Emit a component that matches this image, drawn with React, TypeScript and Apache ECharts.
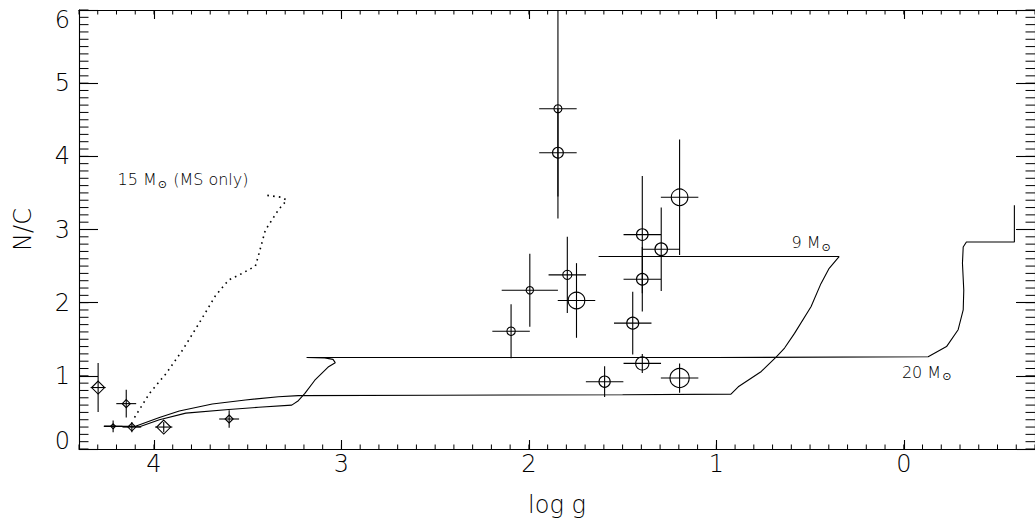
import React, { useEffect, useRef } from 'react';
import * as echarts from 'echarts';

const X_MIN = -0.7;
const X_MAX = 4.4;
const Y_MIN = 0;
const Y_MAX = 6;
const xMajorTicks = [0, 1, 2, 3, 4];
const yMajorTicks = [0, 1, 2, 3, 4, 5, 6];

// Sample 1 (circles)
const circLogg = [1.845, 1.845, 1.196, 1.395, 1.395, 1.294, 1.995, 1.795, 1.746, 2.095, 1.446, 1.395, 1.596, 1.196];
const circNC = [4.65, 4.05, 3.44, 2.93, 2.32, 2.73, 2.17, 2.38, 2.03, 1.61, 1.72, 1.17, 0.92, 0.97];
const circErrLogg = [0.1, 0.1, 0.1, 0.1, 0.1, 0.1, 0.15, 0.1, 0.1, 0.1, 0.1, 0.1, 0.1, 0.1];
const circErrNC = [1.5, 0.6, 0.79, 0.8, 0.44, 0.57, 0.5, 0.52, 0.51, 0.37, 0.43, 0.13, 0.21, 0.2];
const circSize = [4, 5.4, 8.3, 5.8, 5.8, 6.3, 3.7, 4.6, 8.3, 4.2, 6, 6.6, 5.6, 9.6];

// Sample 2 (diamonds)
const diaLogg = [4.298, 4.148, 4.218, 4.118, 3.948, 3.599];
const diaNC = [0.84, 0.62, 0.31, 0.3, 0.3, 0.41];
const diaErrLogg = [0.04, 0.053, 0.05, 0.05, 0.046, 0.053];
const diaErrNC = [0.335, 0.19, 0.08, 0.07, 0.07, 0.12];
const diaSize = [6.5, 4, 2.5, 4, 7, 4];

// 9 Msun track
const track9Logg = [4.266, 4.095, 3.971, 3.865, 3.689, 3.512, 3.336, 3.23, 2.5, 1.5, 0.922, 0.883, 0.76, 0.68, 0.636, 0.583, 0.495, 0.442, 0.398, 0.345, 1.628];
const track9NC = [0.31, 0.315, 0.43, 0.52, 0.615, 0.67, 0.715, 0.73, 0.735, 0.742, 0.75, 0.85, 1.06, 1.26, 1.38, 1.58, 1.945, 2.26, 2.47, 2.63, 2.63];

// 20 Msun track
const track20Logg = [4.266, 4.077, 3.971, 3.83, 3.601, 3.442, 3.265, 3.23, 3.195, 3.142, 3.071, 3.033, 3.045, 3.089, 3.186, 1.0, -0.13, -0.228, -0.29, -0.317, -0.32, -0.313, -0.317, -0.334, -0.59, -0.59];
const track20NC = [0.31, 0.305, 0.4, 0.49, 0.54, 0.57, 0.6, 0.66, 0.76, 0.94, 1.12, 1.18, 1.225, 1.245, 1.25, 1.25, 1.26, 1.4, 1.63, 1.9, 2.17, 2.54, 2.76, 2.83, 2.83, 3.33];

// 15 Msun track (MS only)
const track15Logg = [4.104, 4.024, 3.936, 3.848, 3.759, 3.671, 3.601, 3.53, 3.459, 3.442, 3.406, 3.336, 3.292, 3.318, 3.406];
const track15NC = [0.43, 0.76, 1.03, 1.35, 1.72, 2.1, 2.31, 2.4, 2.5, 2.65, 2.99, 3.27, 3.4, 3.44, 3.47];

// Track labels (anchored in data units)
const labelTexts = ['15 M{s|⊙} (MS only)', '9 M{s|⊙}', '20 M{s|⊙}'];
const labelLogg = [4.194, 0.599, 0.01];
const labelNC = [3.68, 2.82, 1.05];

const FONT = "'DejaVu Sans', 'Liberation Sans', sans-serif";

const zip = (a: number[], b: number[]) => a.map((v, i) => [v, b[i]]);

const errRender = (shape: 'circle' | 'diamond') => (params: any, api: any) => {
  const x = api.value(0);
  const y = api.value(1);
  const dx = api.value(2);
  const dy = api.value(3);
  const r = api.value(4);
  const c = api.coord([x, y]);
  const h1 = api.coord([x - dx, y]);
  const h2 = api.coord([x + dx, y]);
  const v1 = api.coord([x, y - dy]);
  const v2 = api.coord([x, y + dy]);
  const st = { stroke: '#000', lineWidth: 1.1, fill: 'none' };
  const marker =
    shape === 'circle'
      ? { type: 'circle', shape: { cx: c[0], cy: c[1], r }, style: st }
      : {
          type: 'polygon',
          shape: { points: [[c[0], c[1] - r], [c[0] + r, c[1]], [c[0], c[1] + r], [c[0] - r, c[1]]] },
          style: st,
        };
  return {
    type: 'group',
    children: [
      { type: 'line', shape: { x1: h1[0], y1: h1[1], x2: h2[0], y2: h2[1] }, style: st },
      { type: 'line', shape: { x1: v1[0], y1: v1[1], x2: v2[0], y2: v2[1] }, style: st },
      marker,
    ],
  };
};

const xMinorTicks: number[] = [];
for (let k = -7; k <= 44; k++) xMinorTicks.push(k / 10);
const yMinorTicks: number[] = [];
for (let k = 0; k <= 60; k++) yMinorTicks.push(k / 10);

export default function App() {
  const ref = useRef<HTMLDivElement>(null);
  useEffect(() => {
    document.body.style.margin = '0';
    if (!ref.current) return;
    const chart = echarts.init(ref.current, undefined, { renderer: 'svg' });
    const axisLineStyle = { color: '#000', width: 1.1 };
    const labelStyle = { color: '#000', fontSize: 24, fontFamily: FONT, fontWeight: 200 as any };
    const xBase = { type: 'value', min: X_MIN, max: X_MAX, inverse: true, splitLine: { show: false } };
    const yBase = { type: 'value', min: Y_MIN, max: Y_MAX, splitLine: { show: false } };
    const option: any = {
      animation: false,
      backgroundColor: '#fff',
      grid: { left: 79, top: 10, width: 963, height: 439 },
      xAxis: [
        {
          ...xBase,
          position: 'bottom',
          axisLine: { show: true, onZero: false, lineStyle: axisLineStyle },
          axisTick: { show: true, inside: true, length: 9, customValues: xMajorTicks, lineStyle: axisLineStyle },
          axisLabel: { show: true, customValues: xMajorTicks, margin: 3, formatter: (v: number) => String(Math.round(v)), ...labelStyle },
          name: 'log g',
          nameLocation: 'middle',
          nameGap: 44,
          nameTextStyle: { ...labelStyle },
        },
        {
          ...xBase,
          position: 'top',
          axisLine: { show: true, onZero: false, lineStyle: axisLineStyle },
          axisTick: { show: true, inside: true, length: 9, customValues: xMajorTicks, lineStyle: axisLineStyle },
          axisLabel: { show: false },
        },
      ],
      yAxis: [
        {
          ...yBase,
          position: 'left',
          axisLine: { show: true, onZero: false, lineStyle: axisLineStyle },
          axisTick: { show: true, inside: true, length: 19, customValues: yMajorTicks, lineStyle: axisLineStyle },
          axisLabel: {
            show: true,
            customValues: yMajorTicks,
            margin: 9,
            formatter: (v: number) => {
              const n = Math.round(v);
              if (n === Y_MAX) return '{top|' + n + '}';
              if (n === Y_MIN) return '{bot|' + n + '}';
              return String(n);
            },
            ...labelStyle,
            rich: {
              top: { ...labelStyle, padding: [20, 0, 0, 0] },
              bot: { ...labelStyle, padding: [0, 0, 16, 0] },
            },
          },
          name: 'N/C',
          nameLocation: 'middle',
          nameGap: 44,
          nameTextStyle: { ...labelStyle },
        },
        {
          ...yBase,
          position: 'right',
          axisLine: { show: true, onZero: false, lineStyle: axisLineStyle },
          axisTick: { show: true, inside: true, length: 19, customValues: yMajorTicks, lineStyle: axisLineStyle },
          axisLabel: { show: false },
        },
      ],
      series: [
        {
          type: 'custom',
          name: 'xMinor',
          clip: false,
          silent: true,
          data: xMinorTicks.map((v) => [v, Y_MIN]),
          renderItem: (params: any, api: any) => {
            const v = api.value(0);
            const b = api.coord([v, Y_MIN]);
            const t = api.coord([v, Y_MAX]);
            const st = { stroke: '#000', lineWidth: 1 };
            return {
              type: 'group',
              children: [
                { type: 'line', shape: { x1: b[0], y1: b[1], x2: b[0], y2: b[1] - 4.5 }, style: st },
                { type: 'line', shape: { x1: t[0], y1: t[1], x2: t[0], y2: t[1] + 4.5 }, style: st },
              ],
            };
          },
        },
        {
          type: 'custom',
          name: 'yMinor',
          clip: false,
          silent: true,
          data: yMinorTicks.map((v) => [X_MAX, v]),
          renderItem: (params: any, api: any) => {
            const v = api.value(1);
            const l = api.coord([X_MAX, v]);
            const r = api.coord([X_MIN, v]);
            const st = { stroke: '#000', lineWidth: 1 };
            return {
              type: 'group',
              children: [
                { type: 'line', shape: { x1: l[0], y1: l[1], x2: l[0] + 9.5, y2: l[1] }, style: st },
                { type: 'line', shape: { x1: r[0], y1: r[1], x2: r[0] - 9.5, y2: r[1] }, style: st },
              ],
            };
          },
        },
        {
          type: 'line',
          name: '9 Msun',
          data: zip(track9Logg, track9NC),
          showSymbol: false,
          symbol: 'none',
          lineStyle: { color: '#000', width: 1.1 },
        },
        {
          type: 'line',
          name: '20 Msun',
          data: zip(track20Logg, track20NC),
          showSymbol: false,
          symbol: 'none',
          lineStyle: { color: '#000', width: 1.1 },
        },
        {
          type: 'line',
          name: '15 Msun',
          data: zip(track15Logg, track15NC),
          showSymbol: false,
          symbol: 'none',
          lineStyle: { color: '#000', width: 1.6, type: [1.6, 4.2] },
        },
        {
          type: 'custom',
          name: 'sample1',
          clip: true,
          data: circLogg.map((v, i) => [v, circNC[i], circErrLogg[i], circErrNC[i], circSize[i]]),
          renderItem: errRender('circle'),
        },
        {
          type: 'custom',
          name: 'sample2',
          clip: true,
          data: diaLogg.map((v, i) => [v, diaNC[i], diaErrLogg[i], diaErrNC[i], diaSize[i]]),
          renderItem: errRender('diamond'),
        },
        {
          type: 'custom',
          name: 'labels',
          clip: false,
          data: labelTexts.map((t, i) => [labelLogg[i], labelNC[i], i]),
          renderItem: (params: any, api: any) => {
            const p = api.coord([api.value(0), api.value(1)]);
            const i = api.value(2);
            return {
              type: 'text',
              x: p[0],
              y: p[1],
              style: {
                text: labelTexts[i],
                fill: '#000',
                fontSize: 16,
                fontFamily: FONT,
                fontWeight: 200,
                verticalAlign: 'middle',
                align: 'left',
                rich: {
                  s: { fontSize: 11, fontFamily: FONT, fill: '#000', padding: [9, 1, 0, 1] },
                },
              },
            };
          },
        },
      ],
    };
    chart.setOption(option);
    return () => chart.dispose();
  }, []);
  return <div ref={ref} style={{ width: 1035, height: 530 }} />;
}
